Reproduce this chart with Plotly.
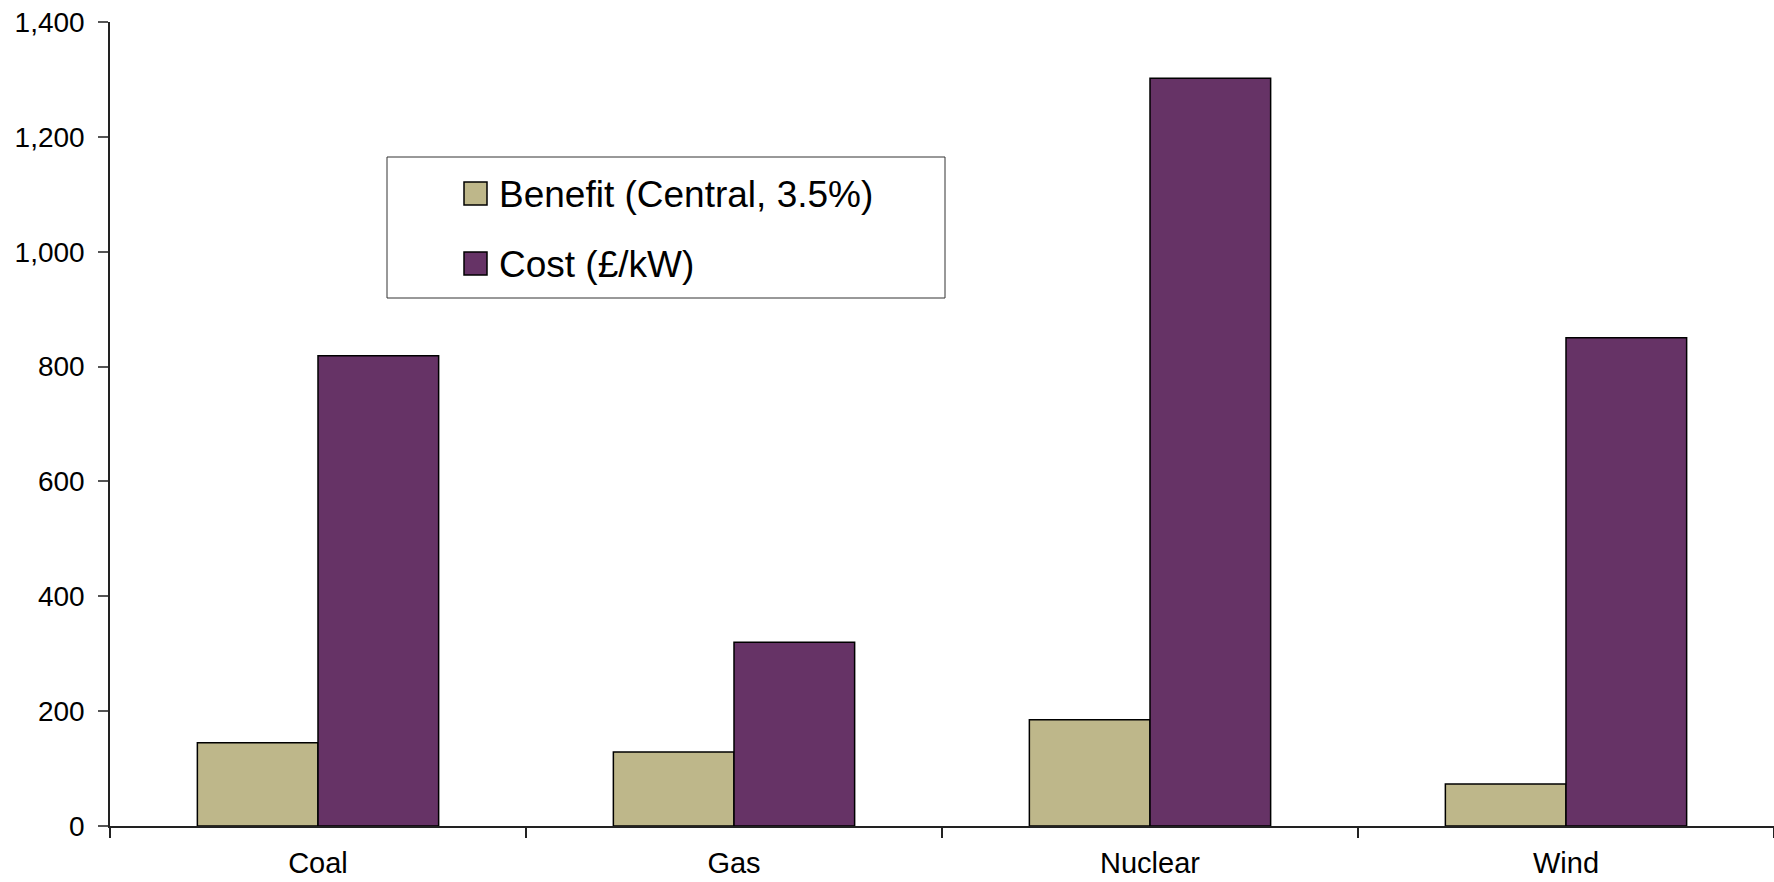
import plotly.graph_objects as go

# Technologies and their per-kW values
categories = ["Coal", "Gas", "Nuclear", "Wind"]
benefit = [145, 129, 185, 73]
cost = [819, 320, 1302, 850]
series_names = ["Benefit (Central, 3.5%)", "Cost (£/kW)"]
y_ticks = [0, 200, 400, 600, 800, 1000, 1200, 1400]
y_tick_labels = ["0", "200", "400", "600", "800", "1,000", "1,200", "1,400"]

W, H = 1774, 882
ML, MR, MT, MB = 110, 0, 22, 56
PW, PH = W - ML - MR, H - MT - MB

BENEFIT_COLOR = "#BEB78A"
COST_COLOR = "#663366"
FONT = "Liberation Sans, Arial, sans-serif"


def px_x(x):
    return (x - ML) / PW


def px_y(y):
    return (H - MB - y) / PH


fig = go.Figure()
fig.add_trace(go.Bar(
    x=categories, y=benefit, name=series_names[0],
    marker=dict(color=BENEFIT_COLOR, line=dict(color="black", width=1.5)),
    showlegend=False,
))
fig.add_trace(go.Bar(
    x=categories, y=cost, name=series_names[1],
    marker=dict(color=COST_COLOR, line=dict(color="black", width=1.5)),
    showlegend=False,
))

# Legend box with swatches and labels
shapes = [dict(type="rect", xref="paper", yref="paper",
               x0=px_x(387), x1=px_x(945), y0=px_y(298), y1=px_y(157),
               line=dict(color="#333333", width=1), fillcolor="white", layer="above")]
annotations = []
for i, (name, color) in enumerate(zip(series_names, [BENEFIT_COLOR, COST_COLOR])):
    top = 182 + i * 70
    shapes.append(dict(type="rect", xref="paper", yref="paper",
                       x0=px_x(464), x1=px_x(487), y0=px_y(top + 23), y1=px_y(top),
                       line=dict(color="black", width=1.5), fillcolor=color, layer="above"))
    annotations.append(dict(xref="paper", yref="paper", x=px_x(497), y=px_y(top + 12),
                            text=name, showarrow=False, xanchor="left", yanchor="middle",
                            font=dict(family=FONT, size=37, color="black")))

fig.update_layout(
    width=W, height=H,
    margin=dict(l=ML, r=MR, t=MT, b=MB, pad=0),
    paper_bgcolor="white", plot_bgcolor="white",
    barmode="group", bargap=0.42, bargroupgap=0,
    font=dict(family=FONT, size=28, color="black"),
    shapes=shapes, annotations=annotations,
    xaxis=dict(
        type="category", showline=True, linecolor="#222222", linewidth=1.5,
        ticks="outside", tickson="boundaries", ticklen=10, tickcolor="#222222",
        tickwidth=1.5, showgrid=False, zeroline=False, ticklabelstandoff=10,
        tickfont=dict(family=FONT, size=29, color="black"),
        range=[-0.5, 3.5], automargin=False,
    ),
    yaxis=dict(
        range=[0, 1400], tickvals=y_ticks, ticktext=y_tick_labels,
        showline=True, linecolor="#222222", linewidth=1.5,
        ticks="outside", ticklen=10, tickcolor="#555555", tickwidth=1.5,
        showgrid=False, zeroline=False, ticklabelstandoff=8,
        tickfont=dict(family=FONT, size=28, color="black"),
        automargin=False,
    ),
)

fig.write_html("out.html")
